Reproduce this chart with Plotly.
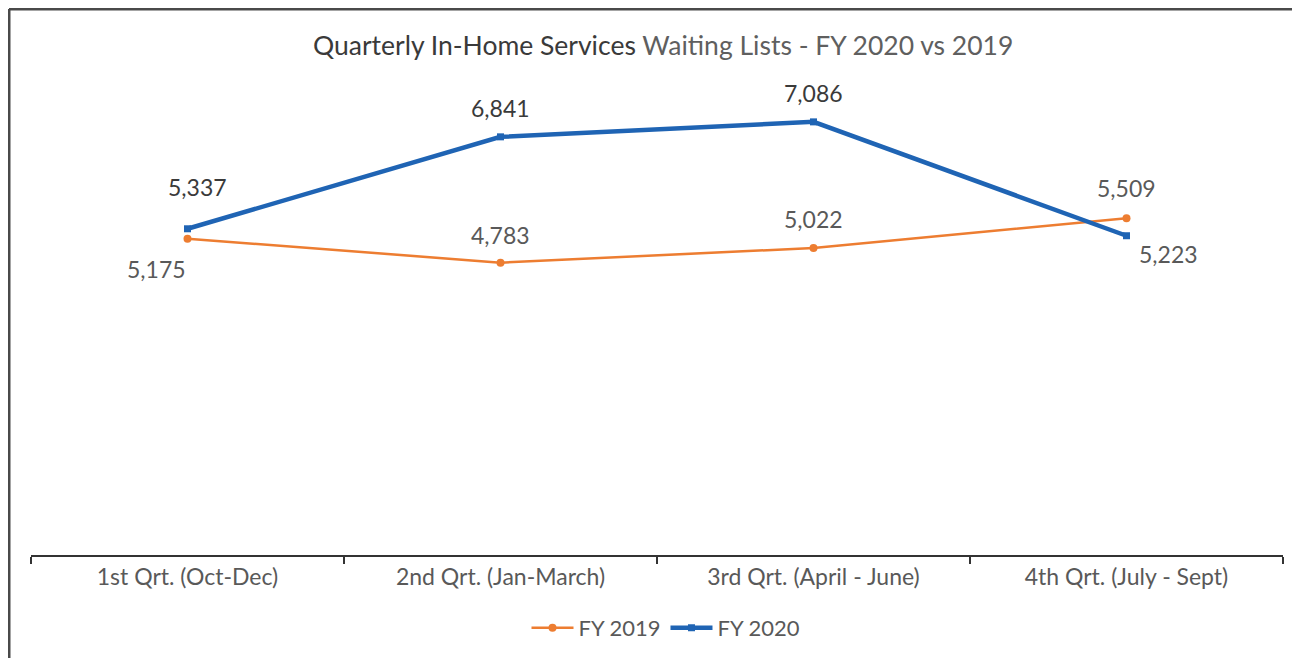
import plotly.graph_objects as go

categories = ["1st Qrt. (Oct-Dec)", "2nd Qrt. (Jan-March)", "3rd Qrt. (April - June)", "4th Qrt. (July - Sept)"]
fy2019 = [5175, 4783, 5022, 5509]
fy2020 = [5337, 6841, 7086, 5223]

# label offsets in pixels (styling)
off2019 = [(-31, -30), (0, 28), (0, 29), (0, 30)]
off2020 = [(10, 42), (0, 29), (0, 29), (42, -18)]

ORANGE = "#ED7D31"
BLUE = "#1F64B4"
FONT = "Lato, 'Open Sans', sans-serif"

fig = go.Figure()
fig.add_trace(go.Scatter(x=categories, y=fy2019, mode="lines+markers", name="FY 2019",
                         line=dict(color=ORANGE, width=2.5),
                         marker=dict(color=ORANGE, size=8, symbol="circle")))
fig.add_trace(go.Scatter(x=categories, y=fy2020, mode="lines+markers", name="FY 2020",
                         line=dict(color=BLUE, width=4.5),
                         marker=dict(color=BLUE, size=7, symbol="square")))

ann = []
for c, v, (dx, dy) in zip(categories, fy2019, off2019):
    ann.append(dict(x=c, y=v, xref="x", yref="y", text=f"{v:,}", showarrow=False,
                    xshift=dx, yshift=dy, font=dict(family=FONT, size=23, color="#595959")))
for c, v, (dx, dy) in zip(categories, fy2020, off2020):
    col = "#595959" if dx > 20 else "#3a3a3a"
    ann.append(dict(x=c, y=v, xref="x", yref="y", text=f"{v:,}", showarrow=False,
                    xshift=dx, yshift=dy, font=dict(family=FONT, size=23, color=col)))

# page has an 8px body margin: reference pixel coords are shifted by OFF
OFF = 8
W, H = 1300, 658
l, r, t, b = 31 - OFF, 1300 - (1283 - OFF), 66 - OFF, 658 - (555 - OFF)
pw, ph = W - l - r, H - t - b
def px(x): return (x - OFF - l) / pw
def py(y): return (H - b - (y - OFF)) / ph

ann.append(dict(x=px(663), y=py(45), xref="paper", yref="paper", showarrow=False,
                text="<span style='color:#3a3a3a'>Quarterly In-Home Services</span> "
                     "<span style='color:#5f5f5f'>Waiting Lists - FY 2020 vs 2019</span>",
                font=dict(family=FONT, size=26.5), xanchor="center", yanchor="middle"))

shapes = [
    dict(type="line", xref="paper", yref="paper", x0=px(9), x1=px(1310), y0=py(9), y1=py(9),
         line=dict(color="#4a4a4a", width=3)),
    dict(type="line", xref="paper", yref="paper", x0=px(9), x1=px(9), y0=py(9), y1=py(670),
         line=dict(color="#4a4a4a", width=3)),
]

fig.update_layout(
    width=W, height=H,
    margin=dict(l=l, r=r, t=t, b=b),
    paper_bgcolor="white", plot_bgcolor="white",
    showlegend=True,
    legend=dict(orientation="h", x=px(666), xanchor="center", y=py(628), yanchor="middle",
                font=dict(family=FONT, size=22, color="#595959"), itemwidth=42),
    annotations=ann,
    shapes=shapes,
    font=dict(family=FONT),
)
fig.update_xaxes(type="category", range=[-0.5, 3.5], showline=True, linecolor="#333333", linewidth=2,
                 ticks="outside", tickson="boundaries", ticklen=7, tickcolor="#333333", tickwidth=2,
                 showgrid=False, zeroline=False,
                 tickfont=dict(family=FONT, size=23, color="#595959"))
fig.update_yaxes(range=[0, 8000], visible=False, showgrid=False, zeroline=False)

fig.write_html("out.html")
